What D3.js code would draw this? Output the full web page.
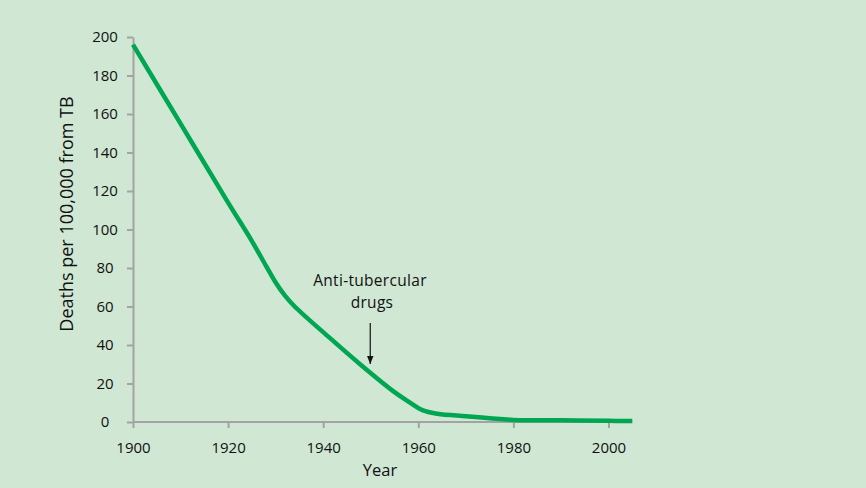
<!DOCTYPE html>
<html><head><meta charset="utf-8">
<script src="https://cdn.jsdelivr.net/npm/d3@7"></script>
<style>
html,body{margin:0;padding:0;background:#cfe7d3;}
svg{display:block;}
text{font-family:"Open Sans",sans-serif;fill:#111;}
</style></head>
<body><svg id="c" width="866" height="488"></svg>
<script>
const years  = [1900,1910,1920,1925,1928,1930,1932,1934,1941,1948,1955,1958,1961,1964,1970,1975,1980,1990,2000,2005];
const deaths = [196, 155, 114, 94, 81, 72.5, 65.5, 60, 44.5, 29.5, 15.5, 10.5, 6, 4.3, 3, 2, 1.1, 0.9, 0.6, 0.5];
const xTicks = [1900,1920,1940,1960,1980,2000];
const yTicks = [0,20,40,60,80,100,120,140,160,180,200];
const xTitle = "Year";
const yTitle = "Deaths per 100,000 from TB";
const noteLines = ["Anti-tubercular","drugs"];
const noteYear = 1950;

const svg = d3.select("#c");
svg.append("rect").attr("width",866).attr("height",488).attr("fill","#cfe7d3");
const x = d3.scaleLinear().domain([1900,2000]).range([133,608.5]);
const y = d3.scaleLinear().domain([0,200]).range([422,37]);
const axisColor = "#a3a3a3";

const gx = svg.append("g").attr("transform",`translate(0,${y(0)})`)
  .call(d3.axisBottom(x).tickValues(xTicks).tickFormat(d3.format("d")).tickSize(6).tickSizeOuter(0));
gx.select(".domain").attr("d",`M${x(1900)},0H${x(2005)}`);
const gy = svg.append("g").attr("transform",`translate(${x(1900)},0)`)
  .call(d3.axisLeft(y).tickValues(yTicks).tickSize(6).tickSizeOuter(0));
[gx,gy].forEach(g=>{
  g.attr("font-size",null).attr("font-family",null);
  g.selectAll(".domain").attr("stroke",axisColor).attr("stroke-width",2);
  g.selectAll(".tick line").attr("stroke",axisColor).attr("stroke-width",2);
  g.selectAll(".tick text").style("font-family","'Open Sans',sans-serif").style("font-size","15px").attr("fill","#111");
});
gx.selectAll(".tick text").attr("dy",null).attr("y",31);
gy.selectAll(".tick text").attr("text-anchor","middle").attr("x",-28).attr("dy","0.3em");

svg.append("path").datum(years.map((d,i)=>[d,deaths[i]]))
  .attr("fill","none").attr("stroke","#00a651").attr("stroke-width",4.5)
  .attr("stroke-linejoin","round")
  .attr("d",d3.line().x(d=>x(d[0])).y(d=>y(d[1])).curve(d3.curveCatmullRom.alpha(0.5)));

svg.append("text").attr("x",380).attr("y",476).attr("text-anchor","middle").style("font-size","16.5px").text(xTitle);
svg.append("text").attr("transform","translate(73,214) rotate(-90)").attr("text-anchor","middle").style("font-size","18px").text(yTitle);

svg.append("text").attr("x",370).attr("y",286).attr("text-anchor","middle").style("font-size","15.5px").attr("letter-spacing","0.3px").text(noteLines[0]);
svg.append("text").attr("x",372).attr("y",308).attr("text-anchor","middle").style("font-size","15.5px").attr("letter-spacing","0.3px").text(noteLines[1]);
svg.append("defs").append("marker").attr("id","ah").attr("viewBox","0 0 10 10").attr("refX",10).attr("refY",5)
  .attr("markerWidth",8).attr("markerHeight",8).attr("markerUnits","userSpaceOnUse").attr("orient","auto")
  .append("path").attr("d","M0,1L10,5L0,9Z").attr("fill","#111");
svg.append("line").attr("x1",x(noteYear)-0.5).attr("x2",x(noteYear)-0.5).attr("y1",323).attr("y2",364)
  .attr("stroke","#111").attr("stroke-width",1.2).attr("marker-end","url(#ah)");
</script></body></html>
